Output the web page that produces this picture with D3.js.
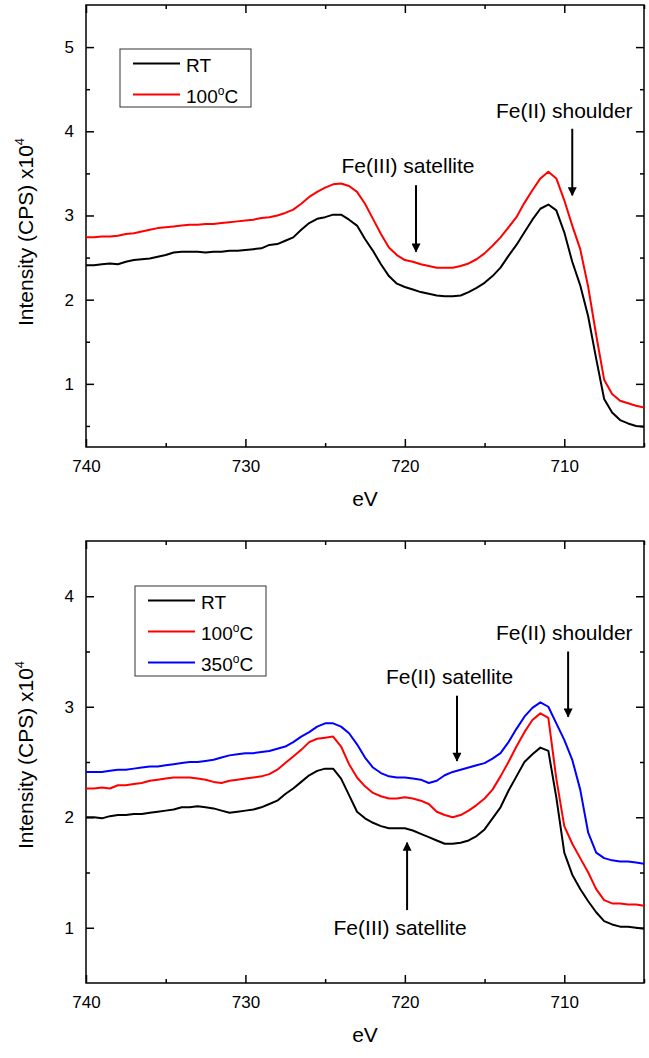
<!DOCTYPE html>
<html>
<head>
<meta charset="utf-8">
<script src="https://cdn.jsdelivr.net/npm/d3@7"></script>
<style>
  body { margin: 0; background: #fff; }
  svg { display: block; font-family: "Liberation Sans", Arial, sans-serif; }
</style>
</head>
<body>
<div id="chart"></div>
<script>
// Binding energy grid (eV), 740 -> 705 in 0.5 eV steps
const energies = [
  740, 739.5, 739, 738.5, 738, 737.5, 737, 736.5, 736, 735.5,
  735, 734.5, 734, 733.5, 733, 732.5, 732, 731.5, 731, 730.5,
  730, 729.5, 729, 728.5, 728, 727.5, 727, 726.5, 726, 725.5,
  725, 724.5, 724, 723.5, 723, 722.5, 722, 721.5, 721, 720.5,
  720, 719.5, 719, 718.5, 718, 717.5, 717, 716.5, 716, 715.5,
  715, 714.5, 714, 713.5, 713, 712.5, 712, 711.5, 711, 710.5,
  710, 709.5, 709, 708.5, 708, 707.5, 707, 706.5, 706, 705.5, 705
];

// Top panel (x10^4 CPS)
const topRT = [
  2.41, 2.41, 2.42, 2.43, 2.42, 2.45, 2.47, 2.48, 2.49, 2.51,
  2.53, 2.56, 2.57, 2.57, 2.57, 2.56, 2.57, 2.57, 2.58, 2.58,
  2.59, 2.60, 2.61, 2.65, 2.66, 2.70, 2.74, 2.83, 2.91, 2.96,
  2.98, 3.01, 3.01, 2.95, 2.88, 2.72, 2.58, 2.42, 2.28, 2.19,
  2.15, 2.12, 2.09, 2.07, 2.05, 2.04, 2.04, 2.05, 2.09, 2.14,
  2.20, 2.28, 2.38, 2.52, 2.65, 2.80, 2.95, 3.08, 3.13, 3.06,
  2.80, 2.45, 2.17, 1.80, 1.30, 0.82, 0.66, 0.57, 0.53, 0.50, 0.49
];
const top100 = [
  2.74, 2.74, 2.75, 2.75, 2.76, 2.78, 2.79, 2.81, 2.83, 2.85,
  2.86, 2.87, 2.88, 2.89, 2.89, 2.90, 2.90, 2.91, 2.92, 2.93,
  2.94, 2.95, 2.97, 2.98, 3.00, 3.03, 3.07, 3.14, 3.22, 3.28,
  3.33, 3.37, 3.38, 3.35, 3.28, 3.14, 2.96, 2.78, 2.62, 2.53,
  2.47, 2.45, 2.42, 2.40, 2.38, 2.38, 2.38, 2.40, 2.43, 2.48,
  2.55, 2.64, 2.74, 2.86, 2.98, 3.15, 3.30, 3.44, 3.52, 3.44,
  3.18, 2.88, 2.60, 2.15, 1.58, 1.05, 0.88, 0.80, 0.77, 0.74, 0.72
];

// Bottom panel (x10^4 CPS)
const botRT = [
  2.00, 2.00, 1.99, 2.01, 2.02, 2.02, 2.03, 2.03, 2.04, 2.05,
  2.06, 2.07, 2.09, 2.09, 2.10, 2.09, 2.08, 2.06, 2.04, 2.05,
  2.06, 2.07, 2.09, 2.12, 2.15, 2.21, 2.26, 2.32, 2.38, 2.42,
  2.44, 2.44, 2.35, 2.20, 2.05, 1.99, 1.95, 1.92, 1.90, 1.90,
  1.90, 1.88, 1.85, 1.82, 1.79, 1.76, 1.76, 1.77, 1.79, 1.83,
  1.89, 1.99, 2.09, 2.24, 2.37, 2.50, 2.57, 2.63, 2.60, 2.18,
  1.68, 1.48, 1.35, 1.24, 1.14, 1.06, 1.03, 1.01, 1.01, 1.00, 0.99
];
const bot100 = [
  2.26, 2.26, 2.27, 2.26, 2.29, 2.29, 2.30, 2.31, 2.33, 2.34,
  2.35, 2.36, 2.36, 2.36, 2.35, 2.34, 2.32, 2.31, 2.33, 2.34,
  2.35, 2.36, 2.37, 2.39, 2.43, 2.49, 2.55, 2.61, 2.68, 2.71,
  2.72, 2.73, 2.64, 2.48, 2.36, 2.28, 2.22, 2.19, 2.17, 2.17,
  2.18, 2.17, 2.15, 2.12, 2.05, 2.02, 2.00, 2.02, 2.06, 2.11,
  2.17, 2.25, 2.37, 2.50, 2.64, 2.77, 2.88, 2.94, 2.90, 2.35,
  1.92, 1.76, 1.63, 1.50, 1.35, 1.25, 1.22, 1.22, 1.21, 1.21, 1.20
];
const bot350 = [
  2.41, 2.41, 2.41, 2.42, 2.43, 2.43, 2.44, 2.45, 2.46, 2.46,
  2.47, 2.48, 2.49, 2.50, 2.50, 2.51, 2.52, 2.54, 2.56, 2.57,
  2.58, 2.58, 2.59, 2.60, 2.62, 2.64, 2.68, 2.73, 2.77, 2.82,
  2.85, 2.85, 2.82, 2.76, 2.66, 2.54, 2.45, 2.40, 2.37, 2.36,
  2.36, 2.35, 2.34, 2.31, 2.33, 2.38, 2.41, 2.43, 2.45, 2.47,
  2.49, 2.53, 2.58, 2.68, 2.80, 2.91, 2.99, 3.04, 3.00, 2.85,
  2.70, 2.52, 2.25, 1.86, 1.68, 1.63, 1.61, 1.60, 1.60, 1.59, 1.58
];

// Axis ticks
const xMajor = [740, 730, 720, 710];
const xMinor = [735, 725, 715, 705];
const topYMajor = [1, 2, 3, 4, 5];
const topYMinor = [0.5, 1.5, 2.5, 3.5, 4.5];
const botYMajor = [1, 2, 3, 4];
const botYMinor = [1.5, 2.5, 3.5];

const legendNames = ["RT", "100", "350"];
const legendColors = ["#000000", "#ff0000", "#0000ff"];

const width = 649, height = 1058;
const svg = d3.select("#chart").append("svg")
    .attr("width", width)
    .attr("height", height);

// Marker for annotation arrows
svg.append("defs").append("marker")
    .attr("id", "arrowhead")
    .attr("viewBox", "0 0 10 10")
    .attr("refX", 9)
    .attr("refY", 5)
    .attr("markerWidth", 5.5)
    .attr("markerHeight", 4.5)
    .attr("markerUnits", "strokeWidth")
    .attr("orient", "auto")
    .append("path")
    .attr("d", "M0,0 L10,5 L0,10 Z")
    .attr("fill", "#000");

function drawPanel(opts) {
    const x = d3.scaleLinear().domain([740, 705]).range([opts.left, opts.right]);
    const y = d3.scaleLinear().domain(opts.yDomain).range([opts.bottom, opts.top]);
    const g = svg.append("g");

    // Inward ticks on all four sides
    const tickStyle = sel => {
        sel.select(".domain").remove();
        sel.selectAll("line").attr("stroke", "#000").attr("stroke-width", 1.5);
        sel.selectAll("text")
            .attr("fill", "#000")
            .style("font-size", "17px")
            .style("font-family", "'Liberation Sans', Arial, sans-serif");
    };

    g.append("g").attr("transform", `translate(0,${opts.bottom})`)
        .call(d3.axisBottom(x).tickValues(xMajor).tickSize(-8).tickPadding(13).tickFormat(d3.format("d")))
        .call(tickStyle);
    g.append("g").attr("transform", `translate(0,${opts.bottom})`)
        .call(d3.axisBottom(x).tickValues(xMinor).tickSize(-4).tickFormat(""))
        .call(tickStyle);
    g.append("g").attr("transform", `translate(0,${opts.top})`)
        .call(d3.axisTop(x).tickValues(xMajor).tickSize(-8).tickFormat(""))
        .call(tickStyle);
    g.append("g").attr("transform", `translate(0,${opts.top})`)
        .call(d3.axisTop(x).tickValues(xMinor).tickSize(-4).tickFormat(""))
        .call(tickStyle);

    g.append("g").attr("transform", `translate(${opts.left},0)`)
        .call(d3.axisLeft(y).tickValues(opts.yMajor).tickSize(-8).tickPadding(12).tickFormat(d3.format("d")))
        .call(tickStyle);
    g.append("g").attr("transform", `translate(${opts.left},0)`)
        .call(d3.axisLeft(y).tickValues(opts.yMinor).tickSize(-4).tickFormat(""))
        .call(tickStyle);
    g.append("g").attr("transform", `translate(${opts.right},0)`)
        .call(d3.axisRight(y).tickValues(opts.yMajor).tickSize(-8).tickFormat(""))
        .call(tickStyle);
    g.append("g").attr("transform", `translate(${opts.right},0)`)
        .call(d3.axisRight(y).tickValues(opts.yMinor).tickSize(-4).tickFormat(""))
        .call(tickStyle);

    // Frame
    g.append("rect")
        .attr("x", opts.left)
        .attr("y", opts.top)
        .attr("width", opts.right - opts.left)
        .attr("height", opts.bottom - opts.top)
        .attr("fill", "none")
        .attr("stroke", "#000")
        .attr("stroke-width", 1.5);

    // Spectra
    const line = d3.line()
        .x((d, i) => x(energies[i]))
        .y(d => y(d));
    opts.series.forEach((s, i) => {
        g.append("path")
            .datum(s)
            .attr("fill", "none")
            .attr("stroke", legendColors[i])
            .attr("stroke-width", 2)
            .attr("stroke-linejoin", "round")
            .attr("d", line);
    });

    // Axis titles
    g.append("text")
        .attr("x", (opts.left + opts.right) / 2)
        .attr("y", opts.bottom + 59)
        .attr("text-anchor", "middle")
        .style("font-size", "21px")
        .text("eV");

    const yl = g.append("text")
        .attr("transform", "rotate(-90)")
        .attr("x", -opts.yLabelCenter)
        .attr("y", 33)
        .attr("text-anchor", "middle")
        .style("font-size", "21px");
    yl.append("tspan").text("Intensity (CPS) x10");
    yl.append("tspan").attr("dy", -9).style("font-size", "13px").text("4");

    // Legend
    const lg = g.append("g").attr("transform", `translate(${opts.legend[0]},${opts.legend[1]})`);
    const n = opts.series.length;
    lg.append("rect")
        .attr("width", 131)
        .attr("height", 32 * n - 6)
        .attr("fill", "#fff")
        .attr("stroke", "#333")
        .attr("stroke-width", 1);
    for (let i = 0; i < n; i++) {
        const cy = 14.5 + 31 * i;
        lg.append("line")
            .attr("x1", 13).attr("x2", 60)
            .attr("y1", cy).attr("y2", cy)
            .attr("stroke", legendColors[i])
            .attr("stroke-width", 2);
        const t = lg.append("text")
            .attr("x", 66)
            .attr("y", cy + 8)
            .style("font-size", "19px");
        t.append("tspan").text(legendNames[i]);
        if (i > 0) {
            t.append("tspan").attr("dy", -8).style("font-size", "12px").text("o");
            t.append("tspan").attr("dy", 8).text("C");
        }
    }

    // Annotations
    opts.notes.forEach(a => {
        g.append("text")
            .attr("x", x(a.tx))
            .attr("y", y(a.ty))
            .attr("text-anchor", "middle")
            .style("font-size", "21px")
            .text(a.label);
        g.append("line")
            .attr("x1", x(a.ax)).attr("x2", x(a.ax))
            .attr("y1", y(a.from)).attr("y2", y(a.to))
            .attr("stroke", "#000")
            .attr("stroke-width", 2)
            .attr("marker-end", "url(#arrowhead)");
    });
}

drawPanel({
    left: 86, right: 644, top: 5, bottom: 447,
    yDomain: [0.25, 5.5],
    yMajor: topYMajor, yMinor: topYMinor,
    series: [topRT, top100],
    legend: [120, 49],
    yLabelCenter: 232,
    notes: [
        { label: "Fe(III) satellite", tx: 719.8, ty: 3.50, ax: 719.3, from: 3.36, to: 2.57 },
        { label: "Fe(II) shoulder", tx: 710.0, ty: 4.16, ax: 709.5, from: 4.03, to: 3.24 }
    ]
});

drawPanel({
    left: 86, right: 644, top: 541, bottom: 983,
    yDomain: [0.5, 4.5],
    yMajor: botYMajor, yMinor: botYMinor,
    series: [botRT, bot100, bot350],
    legend: [135, 586],
    yLabelCenter: 755,
    notes: [
        { label: "Fe(II) shoulder", tx: 710.0, ty: 3.60, ax: 709.76, from: 3.50, to: 2.91 },
        { label: "Fe(II) satellite", tx: 717.2, ty: 3.21, ax: 716.73, from: 3.10, to: 2.51 },
        { label: "Fe(III) satellite", tx: 720.3, ty: 0.93, ax: 719.86, from: 1.16, to: 1.77 }
    ]
});
</script>
</body>
</html>
